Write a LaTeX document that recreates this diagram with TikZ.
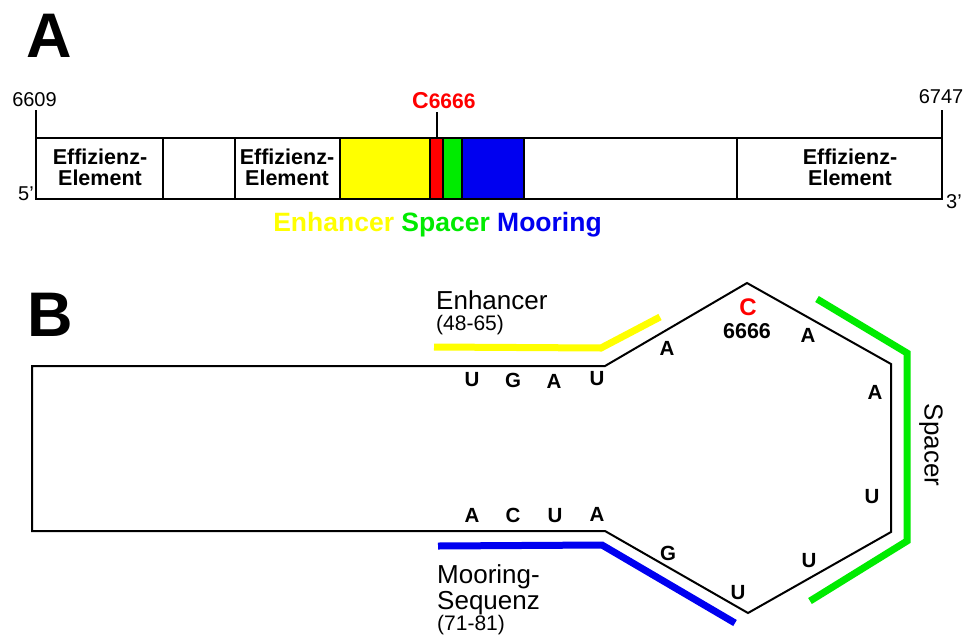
\documentclass[tikz,border=0pt]{standalone}
\usepackage{fontspec}
\setmainfont{Liberation Sans}
\definecolor{ylw}{RGB}{255,255,0}
\definecolor{grn}{RGB}{0,235,0}
\definecolor{blu}{RGB}{0,0,240}
\definecolor{rd}{RGB}{255,0,0}
\begin{document}
\begin{tikzpicture}[x=1pt,y=-1pt,
  outl/.style={line width=2pt, line join=miter},
  num/.style={inner sep=0pt, font=\fontsize{20}{21}\selectfont},
  eff/.style={inner sep=0pt, align=center, font=\fontsize{21.5}{21}\selectfont\bfseries},
  nuc/.style={inner sep=0pt, font=\fontsize{20.5}{20}\selectfont\bfseries},
  lbl/.style={inner sep=0pt, font=\fontsize{26}{26}\selectfont},
  small/.style={inner sep=0pt, font=\fontsize{21}{21}\selectfont},
  big/.style={inner sep=0pt, font=\fontsize{63}{63}\selectfont\bfseries},
  band/.style={line width=7pt}]
\useasboundingbox (0,0) rectangle (971,635);
\fill[white] (0,0) rectangle (971,635);

% ---------------- Part A ----------------
\node[big] (labA) at (49,36) {A};

\filldraw[fill=ylw, outl] (340,138) rectangle (430,199);
\filldraw[fill=rd, outl] (430,138) rectangle (443,199);
\filldraw[fill=grn, outl] (443,138) rectangle (461.5,199);
\filldraw[fill=blu, outl] (461.5,138) rectangle (524,199);
\draw[outl] (36,138) rectangle (942,199);
\draw[outl] (163,138) -- (163,199);
\draw[outl] (235,138) -- (235,199);
\draw[outl] (737,138) -- (737,199);

\coordinate (t1a) at (36,110);  \coordinate (t1b) at (36,138);
\coordinate (t2a) at (942,110); \coordinate (t2b) at (942,138);
\coordinate (t3a) at (437,112); \coordinate (t3b) at (437,138);
\draw[outl] (t1a) -- (t1b);
\draw[outl] (t2a) -- (t2b);
\draw[outl] (t3a) -- (t3b);

\node[num] (n6609) at (34.5,100) {6609};
\node[num] (n6747) at (941,97) {6747};
\node[num, anchor=base east] (p5) at (34,200) {5’};
\node[num, anchor=base west] (p3) at (946,208) {3’};

\node[inner sep=0pt, anchor=base west, text=rd] (c6666a) at (412,108)
  {{\fontsize{23}{23}\selectfont\bfseries C}{\fontsize{21}{21}\selectfont\bfseries 6666}};

\node[eff] (eff1) at (100,167) {Effizienz-\\Element};
\node[eff] (eff2) at (287,167) {Effizienz-\\Element};
\node[eff] (eff3) at (850,167) {Effizienz-\\Element};

\node[inner sep=0pt, font=\fontsize{26.5}{26}\selectfont\bfseries] (legend) at (437.5,225)
  {\textcolor{ylw}{Enhancer} \textcolor{grn}{Spacer} \textcolor{blu}{Mooring}};

% ---------------- Part B ----------------
\node[big] (labB) at (50,315) {B};

\draw[band, ylw] (434,347) -- (601,348) -- (660,317);
\draw[band, grn] (817,299) -- (907,353) -- (907,541) -- (810,601);
\draw[band, blu] (438,546) -- (602,545) -- (735,623);

\draw[outl] (605,366) -- (747,283) -- (891,364) -- (891,532) -- (748,613)
  -- (605,531) -- (32,531) -- (32,366) -- cycle;

\node[lbl, anchor=base west] (enh) at (436,309) {Enhancer};
\node[small, anchor=base west] (enhr) at (436,330) {(48-65)};
\node[lbl, anchor=base west] (moor1) at (437,583) {Mooring-};
\node[lbl, anchor=base west] (moor2) at (437,609) {Sequenz};
\node[small, anchor=base west] (moorr) at (437,630) {(71-81)};
\node[lbl, rotate=-90] (spc) at (931,445) {Spacer};

\node[inner sep=0pt, text=rd, font=\fontsize{24}{24}\selectfont\bfseries] (cB) at (748,307) {C};
\node[inner sep=0pt, font=\fontsize{21.5}{22}\selectfont\bfseries] (n6666) at (747,331) {6666};

% top strand
\node[nuc] (u1) at (472,380) {U};
\node[nuc] (g1) at (513,380) {G};
\node[nuc] (a1) at (554,381) {A};
\node[nuc] (u2) at (597,379) {U};
% loop
\node[nuc] (a2) at (667,348) {A};
\node[nuc] (a3) at (808,335) {A};
\node[nuc] (a4) at (875,392) {A};
\node[nuc] (u3) at (872,497) {U};
\node[nuc] (u4) at (809,561) {U};
\node[nuc] (u5) at (738,593) {U};
\node[nuc] (g2) at (668,553) {G};
% bottom strand
\node[nuc] (a5) at (472,515) {A};
\node[nuc] (c1) at (513,515) {C};
\node[nuc] (u6) at (555,516) {U};
\node[nuc] (a6) at (597,514) {A};
\end{tikzpicture}
\end{document}
